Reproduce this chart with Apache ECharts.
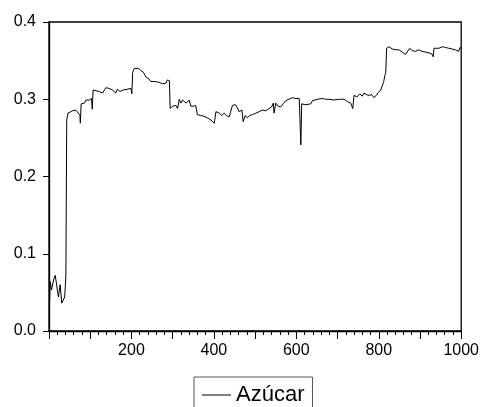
<!DOCTYPE html>
<html>
<head>
<meta charset="utf-8">
<script src="https://cdn.jsdelivr.net/npm/echarts@6/dist/echarts.min.js"></script>
<style>
  html, body { margin: 0; padding: 0; background: #fff; }
  #chart { width: 482px; height: 407px; }
</style>
</head>
<body>
<div id="chart"></div>
<script>
const obsIndex = [1, 3, 6, 11, 15, 18, 21, 23, 27, 31, 35, 38, 40, 41, 43, 46, 49, 57, 65, 71, 75, 76, 78, 86, 90, 98,
  103, 105, 107, 114, 122, 130, 138, 146, 154, 162, 166, 172, 180, 190, 199, 201, 203, 207, 211, 217, 223, 229, 235,
  243, 247, 255, 267, 275, 284, 287, 292, 294, 300, 308, 312, 316, 320, 324, 333, 340, 344, 350, 356, 360, 368, 376,
  384, 393, 401, 405, 413, 419, 425, 430, 437, 441, 445, 452, 457, 461, 468, 471, 476, 481, 487, 493, 502, 510, 518,
  526, 534, 540, 544, 546, 550, 556, 562, 568, 574, 582, 590, 599, 607, 609, 611, 613, 623, 635, 639, 651, 663, 671,
  679, 691, 704, 716, 724, 732, 737, 740, 747, 754, 760, 764, 770, 776, 783, 788, 794, 799, 805, 809, 812, 815, 817,
  819, 825, 833, 841, 849, 857, 865, 869, 875, 881, 889, 897, 905, 914, 922, 930, 932, 934, 938, 946, 954, 962, 970,
  978, 986, 994, 997, 1000];
const azucar = [0.031, 0.064, 0.053, 0.066, 0.072, 0.062, 0.050, 0.044, 0.060, 0.036, 0.037, 0.044, 0.062, 0.075, 0.273,
  0.282, 0.284, 0.285, 0.286, 0.282, 0.279, 0.269, 0.294, 0.295, 0.299, 0.299, 0.301, 0.287, 0.312, 0.311, 0.310,
  0.308, 0.315, 0.314, 0.312, 0.308, 0.313, 0.310, 0.312, 0.313, 0.314, 0.307, 0.335, 0.340, 0.342, 0.340, 0.337,
  0.335, 0.329, 0.326, 0.323, 0.323, 0.322, 0.320, 0.321, 0.325, 0.324, 0.288, 0.291, 0.292, 0.288, 0.300, 0.295,
  0.299, 0.295, 0.299, 0.291, 0.291, 0.292, 0.280, 0.279, 0.278, 0.276, 0.273, 0.269, 0.284, 0.282, 0.279, 0.282,
  0.279, 0.277, 0.275, 0.292, 0.293, 0.289, 0.284, 0.286, 0.271, 0.279, 0.276, 0.279, 0.280, 0.282, 0.284, 0.286,
  0.285, 0.288, 0.290, 0.295, 0.282, 0.295, 0.291, 0.290, 0.294, 0.298, 0.300, 0.302, 0.301, 0.301, 0.299, 0.241,
  0.294, 0.293, 0.294, 0.298, 0.300, 0.301, 0.300, 0.300, 0.299, 0.300, 0.300, 0.297, 0.295, 0.288, 0.305, 0.303,
  0.307, 0.304, 0.308, 0.306, 0.305, 0.306, 0.302, 0.305, 0.309, 0.312, 0.314, 0.323, 0.331, 0.335, 0.366, 0.368,
  0.365, 0.364, 0.364, 0.361, 0.358, 0.357, 0.366, 0.363, 0.362, 0.364, 0.362, 0.361, 0.360, 0.358, 0.355, 0.366,
  0.367, 0.366, 0.368, 0.367, 0.366, 0.365, 0.364, 0.362, 0.367, 0.366];
const yTicks = [0, 0.1, 0.2, 0.3, 0.4];
const xLabelStep = 200;

const font = 'Liberation Sans, Arial, sans-serif';
let myChart = echarts.init(document.getElementById('chart'));
let option = {
    animation: false,
    backgroundColor: '#fff',
    grid: {
        left: 49, right: 20, top: 22, bottom: 76,
        show: true, borderColor: '#000', borderWidth: 1.3
    },
    legend: {
        data: ['Azúcar'],
        left: 194, top: 377,
        padding: [7, 8, 7, 8],
        borderColor: '#555', borderWidth: 1,
        icon: 'rect', itemWidth: 29, itemHeight: 1,
        textStyle: { fontFamily: font, fontSize: 22, color: '#000' }
    },
    xAxis: {
        type: 'value',
        min: 0, max: 1000, interval: 100,
        axisLine: { lineStyle: { color: '#000', width: 1.3 } },
        axisTick: { length: 8, lineStyle: { color: '#000' } },
        minorTick: { show: true, splitNumber: 5, length: 4, lineStyle: { color: '#000' } },
        splitLine: { show: false },
        axisLabel: {
            margin: 12, color: '#000', fontFamily: font, fontSize: 16,
            formatter: v => (v > 0 && v % xLabelStep === 0) ? String(v) : ''
        }
    },
    yAxis: {
        type: 'value',
        min: yTicks[0], max: yTicks[yTicks.length - 1], interval: 0.1,
        axisLine: { show: true, lineStyle: { color: '#000', width: 1.3 } },
        axisTick: { show: true, length: 6, lineStyle: { color: '#000' } },
        splitLine: { show: false },
        axisLabel: {
            margin: 13, color: '#000', fontFamily: font, fontSize: 16,
            formatter: v => v.toFixed(1)
        }
    },
    series: [{
        name: 'Azúcar',
        type: 'line',
        symbol: 'none',
        lineStyle: { color: '#000', width: 1 },
        itemStyle: { color: '#000' },
        data: obsIndex.map((x, i) => [x, azucar[i]])
    }]
};
myChart.setOption(option);
</script>
</body>
</html>
